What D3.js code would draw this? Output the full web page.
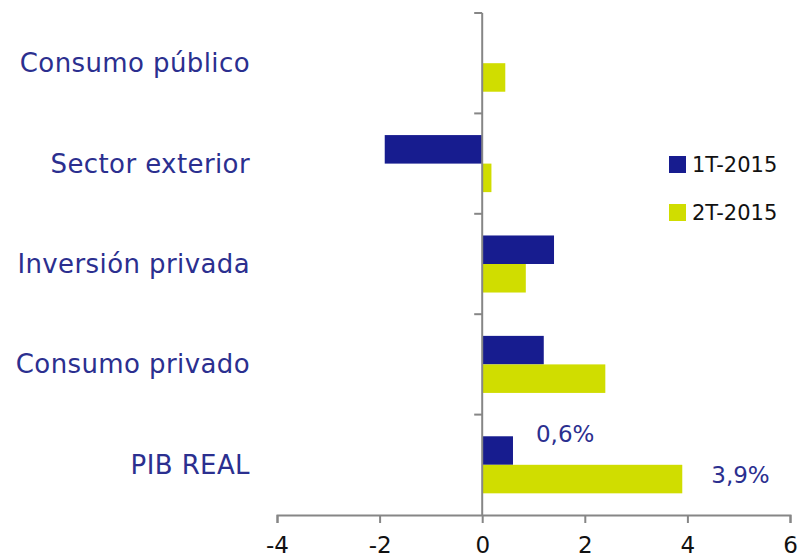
<!DOCTYPE html>
<html>
<head>
<meta charset="utf-8">
<script src="https://cdn.jsdelivr.net/npm/d3@7"></script>
<style>
  body { margin: 0; background: #fff; }
  svg { display: block; }
</style>
</head>
<body>
<div id="chart-container"></div>
<script>
var categories = ["Consumo público", "Sector exterior", "Inversión privada", "Consumo privado", "PIB REAL"];
var series = ["1T-2015", "2T-2015"];
var values1T = [0, -1.9, 1.4, 1.2, 0.6];
var values2T = [0.45, 0.18, 0.85, 2.4, 3.9];
var xTicks = [-4, -2, 0, 2, 4, 6];
var valueLabels = [
  {cat: "PIB REAL", serie: "1T-2015", value: 0.6, text: "0,6%"},
  {cat: "PIB REAL", serie: "2T-2015", value: 3.9, text: "3,9%"}
];

var colors = {"1T-2015": "#171c8f", "2T-2015": "#d0dd00"};
var width = 799, height = 557;
var font = "'DejaVu Sans', sans-serif";

var svg = d3.select("#chart-container")
  .append("svg")
    .attr("width", width)
    .attr("height", height);

var x = d3.scaleLinear()
    .domain([-4, 6])
    .range([277, 790]);

var y = d3.scaleBand()
    .domain(categories)
    .range([13, 515]);

var ySub = d3.scaleBand()
    .domain(series)
    .range([0, y.bandwidth()])
    .paddingOuter(0.76);

var rows = [];
categories.forEach(function(c, i) {
  rows.push({cat: c, serie: "1T-2015", value: values1T[i]});
  rows.push({cat: c, serie: "2T-2015", value: values2T[i]});
});

svg.selectAll(".bar")
    .data(rows.filter(function(d) { return d.value !== 0; }))
  .enter().append("rect")
    .attr("class", "bar")
    .attr("x", function(d) { return x(Math.min(0, d.value)); })
    .attr("width", function(d) { return Math.abs(x(d.value) - x(0)); })
    .attr("y", function(d) { return y(d.cat) + ySub(d.serie); })
    .attr("height", ySub.bandwidth())
    .style("fill", function(d) { return colors[d.serie]; });

// x axis
var xAxis = d3.axisBottom(x)
    .tickValues(xTicks)
    .tickSize(8)
    .tickPadding(14)
    .tickFormat(function(d) { return d < 0 ? "-" + Math.abs(d) : d; });

var gx = svg.append("g")
    .attr("transform", "translate(0," + 515 + ")")
    .call(xAxis);
gx.select(".domain").attr("stroke", "#868686").attr("stroke-width", 2);
gx.selectAll(".tick line").attr("stroke", "#868686").attr("stroke-width", 2);
gx.selectAll(".tick text")
    .style("font-family", font)
    .style("font-size", "23px")
    .attr("fill", "#111");

// vertical axis at zero
var yTicks = categories.map(function(c) { return y(c); });
svg.append("line")
    .attr("x1", x(0)).attr("x2", x(0))
    .attr("y1", 13).attr("y2", 515)
    .attr("stroke", "#868686")
    .attr("stroke-width", 2);
svg.selectAll(".ytick")
    .data(yTicks)
  .enter().append("line")
    .attr("class", "ytick")
    .attr("x1", x(0) - 8).attr("x2", x(0))
    .attr("y1", function(d) { return d; })
    .attr("y2", function(d) { return d; })
    .attr("stroke", "#868686")
    .attr("stroke-width", 2);

// category labels
svg.selectAll(".cat")
    .data(categories)
  .enter().append("text")
    .attr("class", "cat")
    .attr("x", 250)
    .attr("y", function(d) { return y(d) + y.bandwidth() / 2 + 9; })
    .attr("text-anchor", "end")
    .style("font-family", font)
    .style("font-size", "26px")
    .style("letter-spacing", "0.4px")
    .attr("fill", "#2b2f8f")
    .text(function(d) { return d; });

// value labels
svg.selectAll(".vlabel")
    .data(valueLabels)
  .enter().append("text")
    .attr("class", "vlabel")
    .attr("x", function(d) { return x(d.value) + (d.serie === "1T-2015" ? 23 : 29); })
    .attr("y", function(d) { return y(d.cat) + ySub(d.serie) + (d.serie === "1T-2015" ? 6 : 18); })
    .style("font-family", font)
    .style("font-size", "23px")
    .attr("fill", "#2b2f8f")
    .text(function(d) { return d.text; });

// legend
var legend = svg.selectAll(".legend")
    .data(series)
  .enter().append("g")
    .attr("class", "legend")
    .attr("transform", function(d, i) { return "translate(669," + (156 + i * 48) + ")"; });

legend.append("rect")
    .attr("width", 17)
    .attr("height", 17)
    .style("fill", function(d) { return colors[d]; });

legend.append("text")
    .attr("x", 23)
    .attr("y", 16)
    .style("font-family", font)
    .style("font-size", "21px")
    .attr("fill", "#111")
    .text(function(d) { return d; });
</script>
</body>
</html>
